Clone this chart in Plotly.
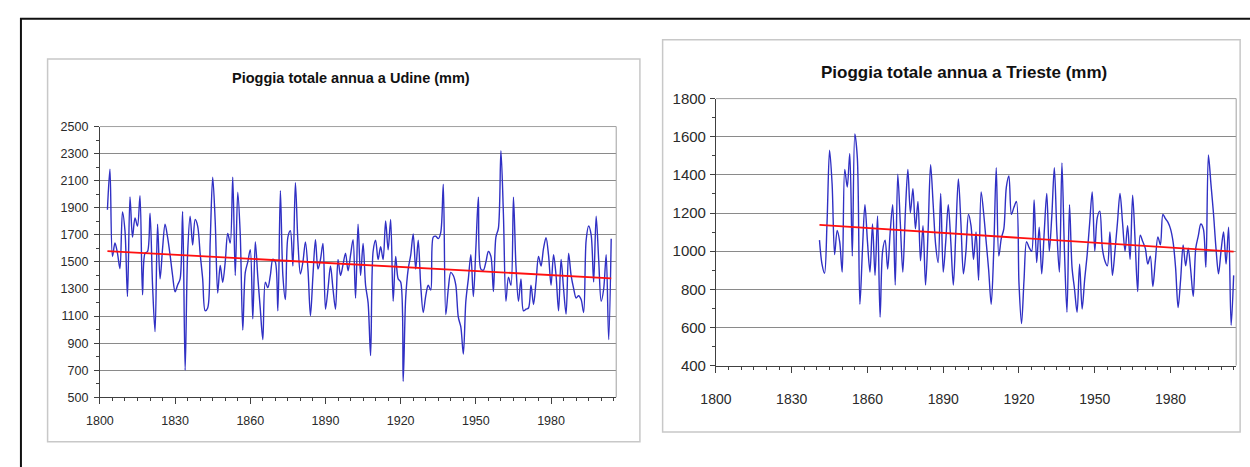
import numpy as np
import plotly.graph_objects as go

# Annual rainfall (mm) at Udine, 1803-2004
udine_years = list(range(1803, 2005))
udine_rain = [
    1885, 2185, 1540, 1640, 1565, 1450, 1870, 1730, 1245, 1980,  # 1803-1812
    1683, 1825, 1765, 1990, 1257, 1565, 1577, 1860, 1328, 985,   # 1813-1822
    1778, 1375, 1600, 1778, 1683, 1550, 1400, 1280, 1330, 1375,  # 1823-1832
    1873, 700, 1565, 1837, 1625, 1813, 1765, 1560, 1375, 1140,   # 1833-1842
    1160, 1650, 2126, 1800, 1270, 1475, 1350, 1500, 1710, 1640,  # 1843-1852
    2126, 1400, 2015, 1700, 997, 1423, 1500, 1590, 1080, 1650,   # 1853-1862
    1388, 1150, 926, 1350, 1310, 1400, 1520, 1500, 1139, 2027,   # 1863-1872
    1400, 1222, 1683, 1730, 1470, 2086, 1650, 1411, 1500, 1648,  # 1873-1882
    1447, 1103, 1400, 1664, 1447, 1518, 1636, 1151, 1300, 1470,  # 1883-1892
    1300, 1151, 1518, 1400, 1480, 1565, 1435, 1550, 1664, 1234,  # 1893-1902
    1778, 1400, 1636, 1328, 1200, 808, 1577, 1660, 1518, 1612,   # 1903-1912
    1518, 1802, 1589, 1813, 1210, 1541, 1375, 1352, 618, 1234,   # 1913-1922
    1447, 1550, 1707, 1447, 1660, 1328, 1127, 1250, 1328, 1293,  # 1923-1932
    1683, 1690, 1672, 1719, 2074, 1110, 1300, 1423, 1400, 1328,  # 1933-1942
    1092, 1020, 820, 1210, 1375, 1553, 1245, 1600, 1979, 1447,   # 1943-1952
    1440, 1500, 1577, 1541, 1281, 1683, 1750, 2322, 1849, 1210,  # 1953-1962
    1388, 1328, 1979, 1470, 1210, 1375, 1139, 1151, 1160, 1328,  # 1963-1972
    1186, 1350, 1541, 1470, 1600, 1679, 1550, 1328, 1553, 1400,  # 1973-1982
    1139, 1518, 1300, 1115, 1565, 1400, 1305, 1234, 1250, 1222,  # 1983-1992
    1127, 1660, 1766, 1700, 1352, 1837, 1518, 1210, 1300, 1553,  # 1993-2002
    926, 1672,                                                   # 2003-2004
]

# Annual rainfall (mm) at Trieste, 1841-2005
trieste_years = list(range(1841, 2006))
trieste_rain = [
    1058, 932, 884, 1151, 1530, 1353, 982, 1109, 1050, 890,      # 1841-1850
    1429, 1336, 1513, 974, 1615, 1488, 721, 1000, 1244, 1050,    # 1851-1860
    890, 1142, 873, 1185, 654, 1000, 1058, 906, 1100, 1244,      # 1861-1870
    822, 1404, 1150, 890, 1200, 1429, 1201, 1328, 1117, 1260,    # 1871-1880
    949, 1134, 822, 1100, 1454, 1250, 1033, 940, 1303, 890,      # 1881-1890
    1050, 1244, 1050, 822, 1100, 1379, 1150, 881, 1000, 1193,    # 1891-1900
    1134, 957, 1100, 847, 1311, 1200, 1050, 900, 721, 1000,      # 1901-1910
    1438, 974, 1067, 1117, 1336, 1395, 1193, 1230, 1260, 831,    # 1911-1920
    620, 850, 1050, 1020, 999, 1269, 940, 1126, 881, 1100,       # 1921-1930
    1303, 999, 1185, 1438, 1100, 890, 1463, 1000, 679, 1244,     # 1931-1940
    915, 800, 679, 932, 696, 850, 982, 1150, 1311, 1000,         # 1941-1950
    1176, 1210, 1016, 950, 923, 1100, 873, 1000, 1151, 1303,     # 1951-1960
    1150, 999, 1134, 957, 1294, 1050, 788, 1083, 1050, 1016,     # 1961-1970
    932, 974, 814, 950, 1075, 1033, 1193, 1170, 1151, 1117,      # 1971-1980
    1050, 915, 704, 850, 1033, 923, 1016, 900, 763, 1016,        # 1981-1990
    1080, 1142, 1117, 915, 1505, 1353, 1200, 1016, 881, 1000,    # 1991-2000
    1100, 932, 1126, 611, 873,                                   # 2001-2005
]

udine_title = "Pioggia totale annua a Udine (mm)"
trieste_title = "Pioggia totale annua a Trieste (mm)"
year_ticks = [1800, 1830, 1860, 1890, 1920, 1950, 1980]

W, H = 1250, 467
BLUE = "#3030c4"
RED = "#ff1010"
GRID = "#8a8a8a"
AXIS = "#404040"
TXT = "#2a2a2a"
FONT = "Liberation Sans, Arial, sans-serif"


def px(x):
    return x / W


def py(y):
    return 1 - y / H


def trend(years, vals):
    slope, icpt = np.polyfit(years, vals, 1)
    xs = [years[0], years[-1]]
    return xs, [slope * x + icpt for x in xs]


fig = go.Figure()

fig.add_trace(go.Scatter(x=udine_years, y=udine_rain, mode="lines",
                         line=dict(color=BLUE, width=1.4, shape="spline", smoothing=0.9),
                         xaxis="x", yaxis="y", showlegend=False))
tx, ty = trend(udine_years, udine_rain)
fig.add_trace(go.Scatter(x=tx, y=ty, mode="lines", line=dict(color=RED, width=1.8),
                         xaxis="x", yaxis="y", showlegend=False))

fig.add_trace(go.Scatter(x=trieste_years, y=trieste_rain, mode="lines",
                         line=dict(color=BLUE, width=1.4, shape="spline", smoothing=0.9),
                         xaxis="x2", yaxis="y2", showlegend=False))
tx, ty = trend(trieste_years, trieste_rain)
fig.add_trace(go.Scatter(x=tx, y=ty, mode="lines", line=dict(color=RED, width=1.8),
                         xaxis="x2", yaxis="y2", showlegend=False))


def xaxis_cfg(x0, x1, size, standoff):
    return dict(domain=[px(x0), px(x1)], range=[1800, 2006], tickvals=year_ticks,
                showgrid=False, zeroline=False, showline=True, linecolor=AXIS, linewidth=1,
                ticks="outside", ticklen=6, tickcolor=AXIS,
                minor=dict(dtick=5, tick0=1800, ticks="outside", ticklen=3, tickcolor=AXIS),
                tickfont=dict(family=FONT, size=size, color=TXT),
                ticklabelstandoff=standoff, fixedrange=True)


def yaxis_cfg(y_top, y_bot, rng, step, size, standoff):
    return dict(domain=[py(y_bot), py(y_top)], range=rng, dtick=step, tick0=rng[0],
                showgrid=True, gridcolor=GRID, gridwidth=1, zeroline=False,
                showline=True, linecolor=AXIS, linewidth=1,
                ticks="outside", ticklen=5, tickcolor=AXIS,
                minor=dict(dtick=step / 2, ticks="outside", ticklen=3, tickcolor=AXIS, showgrid=False),
                tickfont=dict(family=FONT, size=size, color=TXT),
                ticklabelstandoff=standoff, fixedrange=True)


shapes = [
    # outer frame
    dict(type="rect", xref="paper", yref="paper", x0=px(5), x1=px(1262), y0=py(480), y1=py(10),
         line=dict(color="#111111", width=2)),
    # chart panels
    dict(type="rect", xref="paper", yref="paper", x0=px(32), x1=px(632), y0=py(449), y1=py(52),
         line=dict(color="#c8c8c8", width=1.5)),
    dict(type="rect", xref="paper", yref="paper", x0=px(655), x1=px(1240), y0=py(439), y1=py(32),
         line=dict(color="#c8c8c8", width=1.5)),
    # plot-area top/right borders
    dict(type="line", xref="paper", yref="paper", x0=px(85), x1=px(608), y0=py(122), y1=py(122),
         line=dict(color="#a0a0a0", width=1)),
    dict(type="line", xref="paper", yref="paper", x0=px(608), x1=px(608), y0=py(403), y1=py(122),
         line=dict(color="#a0a0a0", width=1)),
    dict(type="line", xref="paper", yref="paper", x0=px(709), x1=px(1236), y0=py(93), y1=py(93),
         line=dict(color="#a0a0a0", width=1)),
    dict(type="line", xref="paper", yref="paper", x0=px(1236), x1=px(1236), y0=py(370), y1=py(93),
         line=dict(color="#a0a0a0", width=1)),
]

annotations = [
    dict(text="<b>%s</b>" % udine_title, xref="paper", yref="paper", x=px(339), y=py(72),
         xanchor="center", yanchor="middle", showarrow=False,
         font=dict(family=FONT, size=14.5, color="#111111")),
    dict(text="<b>%s</b>" % trieste_title, xref="paper", yref="paper", x=px(960), y=py(66),
         xanchor="center", yanchor="middle", showarrow=False,
         font=dict(family=FONT, size=17, color="#111111")),
]

fig.update_layout(
    width=W, height=H, margin=dict(l=0, r=0, t=0, b=0),
    paper_bgcolor="white", plot_bgcolor="white",
    xaxis=xaxis_cfg(85, 608, 12.5, 6),
    yaxis=yaxis_cfg(122, 403, [500, 2500], 200, 12.5, 3),
    xaxis2=dict(xaxis_cfg(709, 1236, 14, 15), anchor="y2"),
    yaxis2=dict(yaxis_cfg(93, 370, [400, 1800], 200, 15, 1), anchor="x2"),
    shapes=shapes, annotations=annotations, showlegend=False,
)
fig.layout.xaxis.anchor = "y"
fig.layout.yaxis.anchor = "x"

fig.write_html("out.html", config={"displayModeBar": False})
